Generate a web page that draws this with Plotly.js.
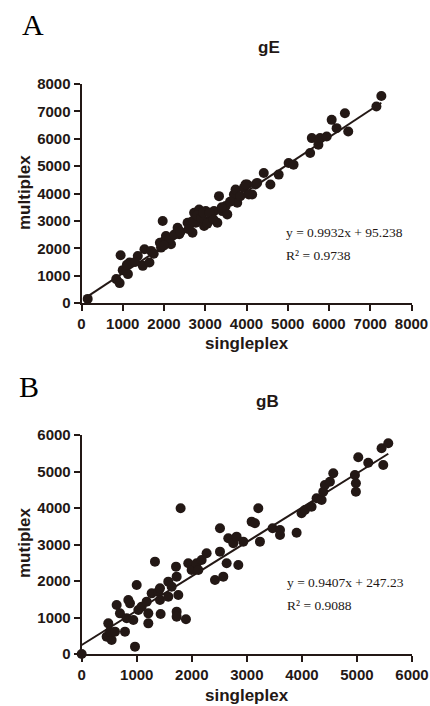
<!DOCTYPE html>
<html><head><meta charset="utf-8">
<script src="https://cdn.plot.ly/plotly-3.0.1.min.js"></script>
<style>html,body{margin:0;padding:0;background:#fff}#c{width:430px;height:706px}</style>
</head><body><div id="c"></div>
<script>
// Panel A: gE
const gE_single = [150,843,924,948,1125,1165,1365,1486,1527,1647,1687,1928,1968,2008,2048,2169,2129,2330,2370,2571,2691,2731,2771,2851,2972,3012,3133,3213,3293,3333,3414,3494,3534,3695,3735,3775,3936,4017,4137,4218,3976,4057,4258,4419,4579,4780,5021,5141,5543,5583,5743,5784,5944,6065,6185,6386,6466,7149,7269,
  1000,1100,1300,1750,1900,2000,2250,2400,2600,2700,2800,2900,2950,3050,3100,3200,3400,3600,3850];
const gE_multi = [150,873,727,1745,1055,1480,1720,1357,1964,1480,1903,2024,2993,2266,2448,2145,2327,2751,2509,2933,2570,3297,2933,3418,2812,3357,3054,3357,2933,3903,3357,3540,3236,3963,4145,3660,4206,4327,3963,4327,4327,3963,4387,4750,4327,4690,5115,5054,5478,6023,5781,6023,6085,6690,6387,6933,6266,7175,7563,
  1200,1400,1500,1800,2200,2100,2500,2600,2700,3000,3200,3100,3300,2900,3300,3050,3500,3700,3900];
const gE_slope = 0.9932, gE_intercept = 95.238;
const gE_eq = "y = 0.9932x + 95.238", gE_r2 = "R² = 0.9738";
const gE_ticks = [0,1000,2000,3000,4000,5000,6000,7000,8000];

// Panel B: gB
const gB_single = [0,483,453,544,514,605,635,695,786,847,877,817,938,968,999,1029,1089,1180,1210,1210,1271,1331,1392,1422,1422,1434,1573,1573,1634,1713,1725,1725,1725,1755,1797,1894,1936,1997,2088,2118,2179,2269,2421,2512,2512,2572,2633,2663,2754,2814,2845,2935,3087,3147,3208,3238,3468,3602,3602,3904,3994,4055,4176,4267,4358,4388,4418,4509,4570,4963,4981,4981,5024,5205,5447,5478,5569];
const gB_multi = [0,840,475,384,612,612,1343,1114,612,1480,1388,978,932,201,1891,1206,1297,1434,1114,840,1662,2530,1708,1480,1799,1096,1571,1982,1845,2393,2119,1160,1023,1617,3991,950,2484,2302,2484,2302,2576,2758,2028,3443,2804,2119,2484,3169,3032,3215,2439,3078,3626,3580,3991,3078,3443,3261,3398,3324,3854,3946,4036,4266,4220,4447,4631,4721,4951,4905,4677,4447,5389,5242,5636,5179,5773];
const gB_slope = 0.9407, gB_intercept = 247.23;
const gB_eq = "y = 0.9407x + 247.23", gB_r2 = "R² = 0.9088";
const gB_ticks = [0,1000,2000,3000,4000,5000,6000];

const INK = '#231815';
const sans = 'Liberation Sans, Arial, Helvetica, sans-serif';
const serif = 'Liberation Serif, Times New Roman, serif';

function fitLine(xs, m, b){
  const lo = Math.min(...xs), hi = Math.max(...xs);
  return {x:[lo,hi], y:[m*lo+b, m*hi+b]};
}
const lA = fitLine(gE_single, gE_slope, gE_intercept);
const lB = fitLine(gB_single, gB_slope, gB_intercept);

const mk = {color: INK, size: 10};
const data = [
  {x: lA.x, y: lA.y, mode:'lines', line:{color:INK,width:2}, xaxis:'x', yaxis:'y', hoverinfo:'skip', cliponaxis:false},
  {x: gE_single, y: gE_multi, mode:'markers', marker:mk, xaxis:'x', yaxis:'y', cliponaxis:false},
  {x: lB.x, y: lB.y, mode:'lines', line:{color:INK,width:2}, xaxis:'x2', yaxis:'y2', hoverinfo:'skip', cliponaxis:false},
  {x: gB_single, y: gB_multi, mode:'markers', marker:mk, xaxis:'x2', yaxis:'y2', cliponaxis:false}
];

function ax(ticks, domain, anchor){
  return {
    domain: domain, anchor: anchor,
    range: [ticks[0], ticks[ticks.length-1]],
    tickvals: ticks, ticktext: ticks.map(String),
    showgrid:false, zeroline:false,
    showline:true, linecolor:INK, linewidth:2,
    ticks:'outside', ticklen:6, tickwidth:2, tickcolor:INK,
    tickfont:{family:sans, size:15, color:INK, weight:'bold'},
    fixedrange:true
  };
}
const W = 430, H = 706;
const px = v => v / W, py = v => 1 - v / H;

const layout = {
  width: W, height: H,
  margin:{l:0,r:0,t:0,b:0},
  paper_bgcolor:'#fff', plot_bgcolor:'#fff',
  showlegend:false,
  xaxis: ax(gE_ticks, [px(81.5), px(411.5)], 'y'),
  yaxis: ax(gE_ticks, [py(303), py(84)], 'x'),
  xaxis2: ax(gB_ticks, [px(81.7), px(412)], 'y2'),
  yaxis2: ax(gB_ticks, [py(654), py(435)], 'x2'),
  annotations: [
    {text:'A', x:px(20), y:py(36), xanchor:'left', yanchor:'bottom', showarrow:false, xref:'paper', yref:'paper', font:{family:serif, size:30, color:'#000'}, yshift:-7},
    {text:'B', x:px(17), y:py(398), xanchor:'left', yanchor:'bottom', showarrow:false, xref:'paper', yref:'paper', font:{family:serif, size:30, color:'#000'}, yshift:-7},
    {text:'gE', x:px(269), y:py(48), xanchor:'center', yanchor:'middle', showarrow:false, xref:'paper', yref:'paper', font:{family:sans, size:17, color:INK, weight:'bold'}},
    {text:'gB', x:px(267), y:py(401), xanchor:'center', yanchor:'middle', showarrow:false, xref:'paper', yref:'paper', font:{family:sans, size:17, color:INK, weight:'bold'}},
    {text:'multiplex', x:px(24), y:py(193), xanchor:'center', yanchor:'middle', textangle:-90, showarrow:false, xref:'paper', yref:'paper', font:{family:sans, size:17, color:INK, weight:'bold'}},
    {text:'mutiplex', x:px(24), y:py(543), xanchor:'center', yanchor:'middle', textangle:-90, showarrow:false, xref:'paper', yref:'paper', font:{family:sans, size:17, color:INK, weight:'bold'}},
    {text:'singleplex', x:px(247), y:py(343), xanchor:'center', yanchor:'middle', showarrow:false, xref:'paper', yref:'paper', font:{family:sans, size:17, color:INK, weight:'bold'}},
    {text:'singleplex', x:px(247), y:py(695), xanchor:'center', yanchor:'middle', showarrow:false, xref:'paper', yref:'paper', font:{family:sans, size:17, color:INK, weight:'bold'}},
    {text:gE_eq, x:px(284), y:py(232), xanchor:'left', yanchor:'middle', showarrow:false, xref:'paper', yref:'paper', font:{family:serif, size:13.5, color:INK}},
    {text:gE_r2, x:px(284), y:py(255), xanchor:'left', yanchor:'middle', showarrow:false, xref:'paper', yref:'paper', font:{family:serif, size:13.5, color:INK}},
    {text:gB_eq, x:px(285), y:py(582), xanchor:'left', yanchor:'middle', showarrow:false, xref:'paper', yref:'paper', font:{family:serif, size:13.5, color:INK}},
    {text:gB_r2, x:px(285), y:py(605), xanchor:'left', yanchor:'middle', showarrow:false, xref:'paper', yref:'paper', font:{family:serif, size:13.5, color:INK}}
  ]
};
Plotly.newPlot('c', data, layout, {displayModeBar:false, staticPlot:true});
</script>
</body></html>
